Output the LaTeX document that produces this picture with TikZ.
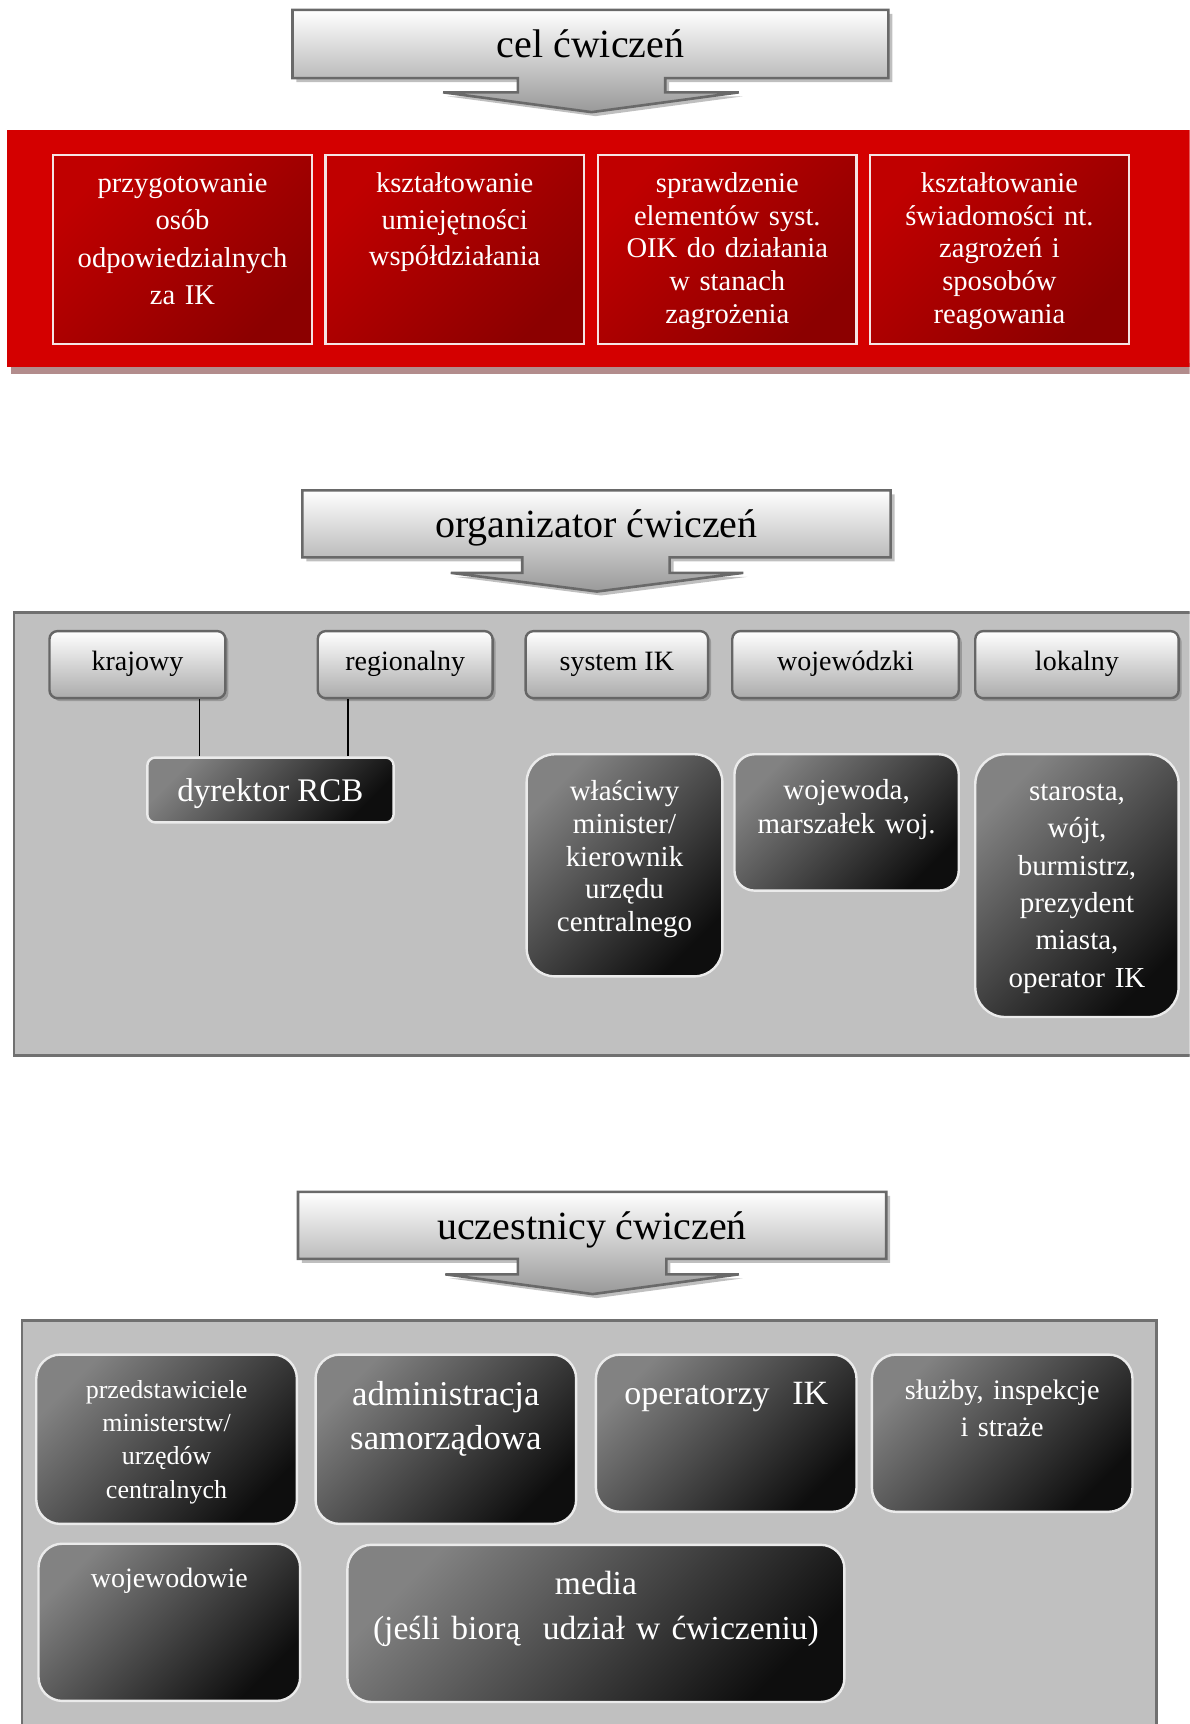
\documentclass[tikz,border=0pt]{standalone}
\usepackage{fontspec}
\setmainfont{Liberation Serif}
\usetikzlibrary{fit,calc,shadows}

\definecolor{bandred}{RGB}{212,0,0}
\definecolor{bandshadow}{RGB}{178,140,140}
\definecolor{boxred}{RGB}{192,0,0}
\definecolor{boxredd}{RGB}{140,0,0}
\definecolor{redline}{RGB}{245,228,228}
\definecolor{panel}{RGB}{192,192,192}
\definecolor{panelline}{RGB}{112,112,112}
\definecolor{hdrline}{RGB}{105,105,105}
\definecolor{darktop}{RGB}{130,130,130}
\definecolor{darkbot}{RGB}{14,14,14}

\tikzset{
  hdr/.style={draw=hdrline, line width=1.3pt, top color=white, bottom color=black!40,
    drop shadow={shadow xshift=2pt, shadow yshift=-2pt, fill=black!50, opacity=.5}},
  hdrtxt/.style={font=\fontsize{20}{24}\selectfont, anchor=base, inner sep=0pt},
  redbox/.style={draw=redline, line width=1.2pt, inner sep=0pt, top color=boxred, bottom color=boxredd, shading angle=45},
  lbox/.style={draw=black!60, line width=1.2pt, rounded corners=4pt, inner sep=0pt,
    top color=white, bottom color=black!33,
    drop shadow={shadow xshift=1.5pt, shadow yshift=-1.5pt, fill=black!55, opacity=.5}},
  ltxt/.style={font=\fontsize{14}{17}\selectfont, anchor=base, inner sep=0pt},
  dbox/.style={draw=black!8, line width=1.2pt, inner sep=0pt, top color=darktop, bottom color=darkbot, shading angle=45},
  wtxt/.style={text=white, align=center, anchor=base, inner sep=0pt},
  link/.style={line width=.8pt}
}

\begin{document}
\begin{tikzpicture}[x=0.55pt, y=-0.55pt]
  \useasboundingbox (0,0) rectangle (1082,1568);
  \clip (0,0) rectangle (1082,1568);

  \draw[hdr] (266,9) -- (808,9) -- (808,71) -- (605,71) -- (605,84) -- (672,84) -- (538,102)
    -- (403,84) -- (471,84) -- (471,71) -- (266,71) -- cycle;
  \node[hdrtxt] (cel) at (537,52.5) {cel ćwiczeń};

  \fill[bandshadow] (10,330) rectangle (1100,340);
  \fill[bandred] (6,118) rectangle (1100,334);
  \node[redbox, fit={(48,141) (284,313)}] (cel1) {};
  \node[redbox, fit={(296,141) (531,313)}] (cel2) {};
  \node[redbox, fit={(544,141) (779,313)}] (cel3) {};
  \node[redbox, fit={(791,141) (1027,313)}] (cel4) {};
  \node[wtxt, text width=115pt, font=\fontsize{14.3}{18.7}\selectfont] (cel1t) at (166,175)
    {przygotowanie\\ osób\\ odpowiedzialnych\\ za IK};
  \node[wtxt, text width=115pt, font=\fontsize{14.3}{18.4}\selectfont] (cel2t) at (413.5,175)
    {kształtowanie\\ umiejętności\\ współdziałania};
  \node[wtxt, text width=115pt, font=\fontsize{14.3}{16.4}\selectfont] (cel3t) at (661.5,175)
    {sprawdzenie\\ elementów syst.\\ OIK do działania\\ w stanach\\ zagrożenia};
  \node[wtxt, text width=115pt, font=\fontsize{14.3}{16.4}\selectfont] (cel4t) at (909,175)
    {kształtowanie\\ świadomości nt.\\ zagrożeń i\\ sposobów\\ reagowania};

  \draw[hdr] (275,446) -- (810,446) -- (810,507) -- (609,507) -- (609,521) -- (676,521) -- (543,538)
    -- (410,521) -- (475,521) -- (475,507) -- (275,507) -- cycle;
  \node[hdrtxt] (org) at (542.5,489) {organizator ćwiczeń};

  \draw[draw=panelline, fill=panel, line width=1.2pt] (13,557) rectangle (1100,960);
  \node[lbox, fit={(45,574) (205,635)}] (kraj) {};
  \node[lbox, fit={(289,574) (448,635)}] (reg) {};
  \node[lbox, fit={(478,574) (644,635)}] (sys) {};
  \node[lbox, fit={(666,574) (872,635)}] (wojew) {};
  \node[lbox, fit={(887,574) (1072,635)}] (lok) {};
  \node[ltxt] (krajt) at (125,610) {krajowy};
  \node[ltxt] (regt) at (368.5,610) {regionalny};
  \node[ltxt] (syst) at (561,610) {system IK};
  \node[ltxt] (wojewt) at (769,610) {wojewódzki};
  \node[ltxt] (lokt) at (979.5,610) {lokalny};

  \node[dbox, rounded corners=4pt, fit={(134,689) (358,748)}] (dyr) {};
  \node[wtxt, font=\fontsize{16.5}{20}\selectfont] (dyrt) at (246,729) {dyrektor RCB};
  \coordinate (d1) at ($(dyr.north west)!.214!(dyr.north east)$);
  \coordinate (d2) at ($(dyr.north west)!.812!(dyr.north east)$);
  \draw[link] (kraj.south -| d1) -- (d1);
  \draw[link] (reg.south -| d2) -- (d2);

  \node[dbox, rounded corners=14pt, fit={(479,686) (657,888)}] (min) {};
  \node[wtxt, text width=90pt, font=\fontsize{14.5}{16.4}\selectfont] (mint) at (568,728)
    {właściwy\\ minister/\\ kierownik\\ urzędu\\ centralnego};
  \node[dbox, rounded corners=10pt, fit={(668,686) (872,810)}] (woj) {};
  \node[wtxt, text width=100pt, font=\fontsize{14.5}{17}\selectfont] (wojt) at (770,727)
    {wojewoda,\\ marszałek woj.};
  \node[dbox, rounded corners=15pt, fit={(887,686) (1072,925)}] (sta) {};
  \node[wtxt, text width=90pt, font=\fontsize{14.5}{18.7}\selectfont] (stat) at (979.5,728)
    {starosta,\\ wójt,\\ burmistrz,\\ prezydent\\ miasta,\\ operator IK};

  \draw[hdr] (271,1084) -- (806,1084) -- (806,1145) -- (606,1145) -- (606,1159) -- (672,1159) -- (539,1177)
    -- (405,1159) -- (471,1159) -- (471,1145) -- (271,1145) -- cycle;
  \node[hdrtxt] (ucz) at (538.5,1127) {uczestnicy ćwiczeń};

  \draw[draw=panelline, fill=panel, line width=1.2pt] (20,1201) rectangle (1052,1600);
  \node[dbox, rounded corners=12pt, fit={(33,1232) (270,1386)}] (prz) {};
  \node[wtxt, text width=120pt, font=\fontsize{13}{16.7}\selectfont] (przt) at (151.5,1271.5)
    {przedstawiciele\\ ministerstw/\\ urzędów\\ centralnych};
  \node[dbox, rounded corners=12pt, fit={(287,1232) (524,1386)}] (adm) {};
  \node[wtxt, text width=120pt, font=\fontsize{17.4}{22}\selectfont] (admt) at (405.5,1278)
    {administracja\\ samorządowa};
  \node[dbox, rounded corners=12pt, fit={(542,1232) (779,1375)}] (ope) {};
  \node[wtxt, text width=120pt, font=\fontsize{17}{20}\selectfont] (opet) at (660.5,1277)
    {operatorzy\ \ IK};
  \node[dbox, rounded corners=12pt, fit={(793,1232) (1030,1375)}] (slu) {};
  \node[wtxt, text width=120pt, font=\fontsize{14.1}{18.2}\selectfont] (slut) at (911.5,1273)
    {służby, inspekcje\\ i straże};
  \node[dbox, rounded corners=12pt, fit={(35,1404) (273,1547)}] (wjw) {};
  \node[wtxt, text width=120pt, font=\fontsize{14}{17}\selectfont] (wjwt) at (154,1444)
    {wojewodowie};
  \node[dbox, rounded corners=12pt, fit={(316,1405) (768,1548)}] (med) {};
  \node[wtxt, text width=240pt, font=\fontsize{16.8}{22.5}\selectfont] (medt) at (542,1450)
    {media\\ (jeśli biorą\ \ udział w ćwiczeniu)};
\end{tikzpicture}
\end{document}
